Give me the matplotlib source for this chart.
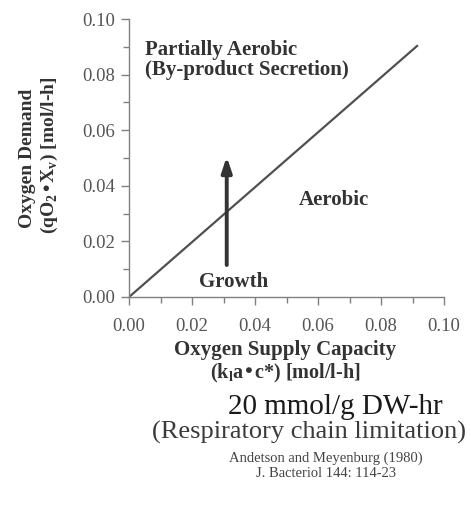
import matplotlib
matplotlib.use('Agg')
import matplotlib.pyplot as plt

# boundary line between aerobic / partially aerobic
line_x = [0.0, 0.0914]
line_y = [0.0, 0.0903]

# growth arrow (x, y_start, y_end)
arrow_x = 0.031
arrow_y = [0.0115, 0.0505]

ticks = [0.00, 0.02, 0.04, 0.06, 0.08, 0.10]
tick_labels = ['0.00', '0.02', '0.04', '0.06', '0.08', '0.10']
minor_ticks = [0.01, 0.03, 0.05, 0.07, 0.09]

serif = ['Liberation Serif', 'DejaVu Serif']
txt = '#333333'
axc = '#808080'

fig = plt.figure(figsize=(4.71, 5.11), dpi=100)
ax = fig.add_axes([0.274, 0.4188, 0.669, 0.544])

ax.plot(line_x, line_y, color='#505050', lw=1.6)
ax.annotate('', xy=(arrow_x, arrow_y[1]), xytext=(arrow_x, arrow_y[0]),
            arrowprops=dict(arrowstyle='-|>,head_length=0.9,head_width=0.3',
                            lw=2.8, color='#333333', shrinkA=0, shrinkB=0))

ax.set_xlim(0, 0.10)
ax.set_ylim(0, 0.10)
ax.set_xticks(ticks)
ax.set_xticklabels(tick_labels)
ax.set_yticks(ticks)
ax.set_yticklabels(tick_labels)
ax.set_xticks(minor_ticks, minor=True)
ax.set_yticks(minor_ticks, minor=True)
for s in ['top', 'right']:
    ax.spines[s].set_visible(False)
for s in ['left', 'bottom']:
    ax.spines[s].set_color(axc)
    ax.spines[s].set_linewidth(1.0)
ax.tick_params(which='major', length=6, width=1, color=axc, labelcolor='#555555')
ax.tick_params(which='minor', length=4, width=1, color=axc)
ax.tick_params(axis='x', which='major', pad=9)
ax.tick_params(axis='y', which='major', pad=4)
for lab in ax.get_xticklabels() + ax.get_yticklabels():
    lab.set_family(serif)
    lab.set_fontsize(13.5)

bold = dict(family=serif, fontweight='bold', color=txt, fontsize=15)
ax.text(0.005, 0.0888, 'Partially Aerobic', ha='left', va='center', **bold)
ax.text(0.005, 0.0815, '(By-product Secretion)', ha='left', va='center', **bold)
ax.text(0.065, 0.035, 'Aerobic', ha='center', va='center', **bold)
ax.text(0.0333, 0.0054, 'Growth', ha='center', va='center', **bold)

fig.text(285 / 471, 1 - 350 / 511, 'Oxygen Supply Capacity', ha='center', va='center', **bold)
fig.text(285 / 471, 1 - 373 / 511, '(k$_\\mathregular{l}$a\u2022c*) [mol/l-h]', ha='center', va='center',
         **dict(bold, fontsize=14.5))
fig.text(27 / 471, 1 - 158 / 511, 'Oxygen Demand', ha='center', va='center', rotation=90,
         **dict(bold, fontsize=14))
fig.text(49 / 471, 1 - 155 / 511, '(qO$_\\mathregular{2}$\u2022X$_\\mathregular{v}$) [mol/l-h]',
         ha='center', va='center', rotation=90, **dict(bold, fontsize=14))

fig.text(335 / 471, 1 - 407 / 511, '20 mmol/g DW-hr', ha='center', va='center',
         family=serif, fontsize=21, color='#1a1a1a')
fig.text(309 / 471, 1 - 432 / 511, '(Respiratory chain limitation)', ha='center', va='center',
         family=serif, fontsize=19, color='#3a3a3a')
fig.text(326 / 471, 1 - 458 / 511, 'Andetson and Meyenburg (1980)', ha='center', va='center',
         family=serif, fontsize=10.5, color='#444444')
fig.text(326 / 471, 1 - 473 / 511, 'J. Bacteriol 144: 114-23', ha='center', va='center',
         family=serif, fontsize=10.5, color='#444444')

fig.savefig('out.png', dpi=100, facecolor='white')
